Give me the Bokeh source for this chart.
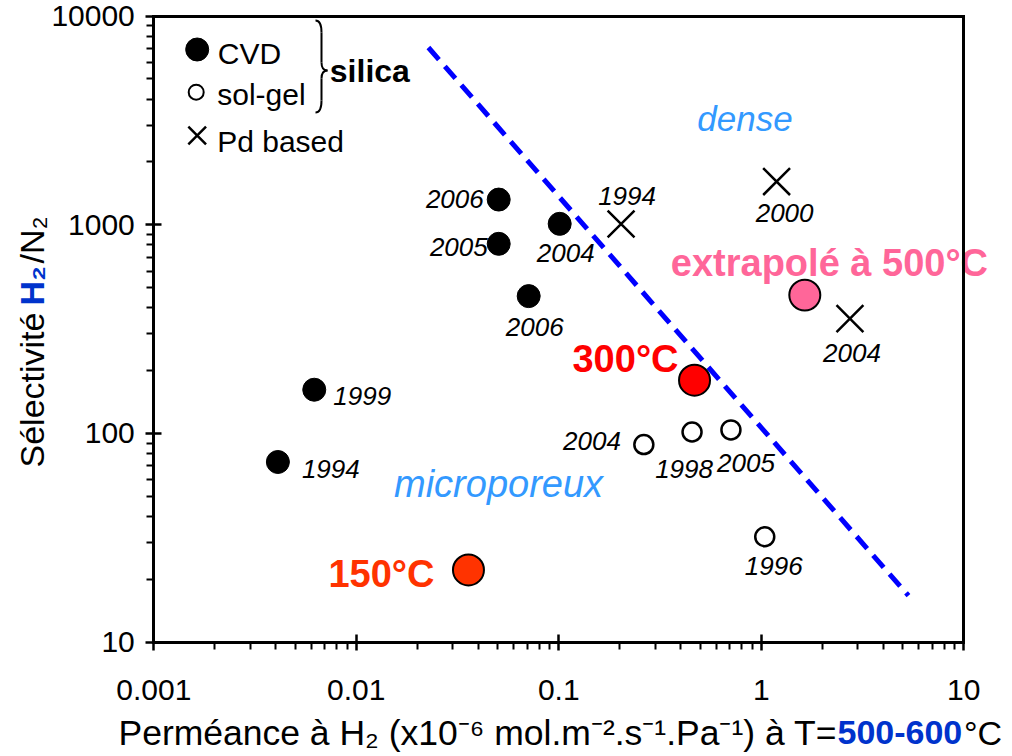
import math
from bokeh.plotting import figure
from bokeh.models import Range1d, LinearScale, FixedTicker, CustomJSTickFormatter, LogAxis
from bokeh.core.properties import value
from bokeh.embed import file_html
from bokeh.resources import INLINE

FONT = "Liberation Sans"

# ---------------- data ----------------
cvd_x = [0.0041, 0.0062, 0.0505, 0.0505, 0.101, 0.071]
cvd_y = [73, 162, 1320, 810, 1010, 455]
cvd_year = ["1994", "1999", "2006", "2005", "2004", "2006"]

solgel_x = [0.263, 0.455, 0.708, 1.04]
solgel_y = [88.5, 101.6, 104, 32]
solgel_year = ["2004", "1998", "2005", "1996"]

pd_x = [0.203, 1.19, 2.74]
pd_y = [1008, 1610, 355]
pd_year = ["1994", "2000", "2004"]

work_x = [0.0358, 0.468, 1.64]
work_y = [22.2, 180, 460]
work_label = ["150°C", "300°C", "extrapolé à 500°C"]
work_color = ["#FF3300", "#FF0000", "#FF6699"]

limit_x = [0.0227, 5.33]
limit_y = [7063, 16.7]

region_label = ["dense", "microporeux"]
region_x = [0.831, 0.0504]
region_y = [2797, 49.3]
region_size = [35, 38]

x_ticks = [0.001, 0.01, 0.1, 1, 10]
y_ticks = [10, 100, 1000, 10000]

# ---------------- layout / styles ----------------
W, H = 1012, 756
X0_PX, X_DEC = 153.3, 202.5      # pixel of x=0.001, pixels per decade
Y0_PX, Y_DEC = 15.5, 208.73      # pixel of y=10000, pixels per decade
MID = 0.36                       # text anchor -> visual centre correction (em)

x_lo = 10 ** (-3 - X0_PX / X_DEC)
x_hi = 10 ** (-3 + (W - X0_PX) / X_DEC)
y_hi = 10 ** (4 + Y0_PX / Y_DEC)
y_lo = 10 ** (4 - (H - Y0_PX) / Y_DEC)

# (align, x offset, y offset of the text's visual centre) in px
cvd_lab = [("left", 24, 7), ("left", 19, 6), ("right", -15, -1), ("right", -11, 3),
           ("center", 6, 29), ("center", 6, 30.5)]
solgel_lab = [("right", -23, -4), ("center", -8, 36.5), ("center", 15, 33), ("center", 9, 29.5)]
pd_lab = [("center", 6, -28), ("center", 8, 31), ("center", 2, 34.5)]
work_lab = [("right", -34, 4), ("right", -16, -21), ("left", -134, -32)]

x_minor = [m * 10.0 ** e for e in range(-3, 1) for m in range(2, 10)]
y_minor = [m * 10.0 ** e for e in range(1, 4) for m in range(2, 10)]

p = figure(width=W, height=H, x_axis_type="log", y_axis_type="log",
           x_range=Range1d(x_lo, x_hi), y_range=Range1d(y_lo, y_hi),
           output_backend="svg", toolbar_location=None,
           min_border=0, min_border_left=0, min_border_right=0,
           min_border_top=0, min_border_bottom=0)
p.title.visible = False
p.xgrid.visible = False
p.ygrid.visible = False
p.outline_line_color = None
p.background_fill_color = "white"
p.border_fill_color = "white"

for ax in (p.xaxis[0], p.yaxis[0]):
    ax.axis_line_width = 3
    ax.axis_line_cap = "square"
    ax.major_tick_line_width = 2.5
    ax.minor_tick_line_width = 2
    ax.major_tick_in = 8
    ax.major_tick_out = 8
    ax.minor_tick_in = 0
    ax.minor_tick_out = 7
    ax.major_label_text_font = FONT
    ax.major_label_text_font_size = "30px"
    ax.major_label_text_color = "black"
    ax.formatter = CustomJSTickFormatter(code="return tick.toString();")
p.xaxis[0].ticker = FixedTicker(ticks=x_ticks, minor_ticks=x_minor)
p.yaxis[0].ticker = FixedTicker(ticks=y_ticks, minor_ticks=y_minor)
p.xaxis[0].fixed_location = y_ticks[0]
p.xaxis[0].bounds = (x_ticks[0], x_ticks[-1])
p.yaxis[0].fixed_location = x_ticks[0]
p.yaxis[0].bounds = (y_ticks[0], y_ticks[-1])
p.xaxis[0].major_label_standoff = 30
p.yaxis[0].major_label_standoff = 11

# top and right frame lines
for loc, fixed, bnds in [("above", y_ticks[-1], (x_ticks[0], x_ticks[-1])),
                         ("right", x_ticks[-1], (y_ticks[0], y_ticks[-1]))]:
    p.add_layout(LogAxis(fixed_location=fixed, bounds=bnds, ticker=FixedTicker(ticks=[]),
                         axis_line_width=3, axis_line_cap="square",
                         major_tick_line_color=None, minor_tick_line_color=None,
                         major_label_text_font_size="0px"), loc)

# pixel overlay (page pixels) for legend decoration and titles
p.extra_x_ranges = {"px": Range1d(0, W)}
p.extra_y_ranges = {"py": Range1d(H, 0)}
p.extra_x_scales = {"px": LinearScale()}
p.extra_y_scales = {"py": LinearScale()}
ov = dict(x_range_name="px", y_range_name="py")


def txt(x, y, t, fs, align="left", style="normal", color="black", angle=0.0, dx=0.0, dy=0.0, **kw):
    p.text(x, y, text=t, x_offset=dx, y_offset=dy, angle=angle, text_align=align,
           text_baseline="alphabetic", text_font=value(FONT), text_font_size=f"{fs}px",
           text_font_style=style, text_color=color, **kw)


# ---------------- marks ----------------
p.line(limit_x, limit_y, line_color="#0000FF", line_width=5, line_dash="16 9")
p.scatter(cvd_x, cvd_y, marker="circle", size=23, fill_color="black", line_color="black")
p.scatter(solgel_x, solgel_y, marker="circle", size=19, fill_color="white",
          line_color="black", line_width=2.5)
p.scatter(pd_x, pd_y, marker="x", size=38, line_color="black", line_width=2.5)
p.scatter(work_x, work_y, marker="circle", size=31, fill_color=work_color,
          line_color="black", line_width=2)

for xs, ys, ts, styles in [(cvd_x, cvd_y, cvd_year, cvd_lab),
                           (solgel_x, solgel_y, solgel_year, solgel_lab),
                           (pd_x, pd_y, pd_year, pd_lab)]:
    for xv, yv, t, (al, dx, dy) in zip(xs, ys, ts, styles):
        txt([xv], [yv], [t], 26, align=al, style="italic", dx=dx, dy=dy)

for xv, yv, t, c, (al, dx, dy) in zip(work_x, work_y, work_label, work_color, work_lab):
    txt([xv], [yv], [t], 38, align=al, style="bold", color=c, dx=dx, dy=dy)

for xv, yv, t, fs in zip(region_x, region_y, region_label, region_size):
    txt([xv], [yv], [t], fs, align="center", style="italic", color="#3399FF", dy=-MID * fs)

# ---------------- legend ----------------
p.scatter([196.7], [49], marker="circle", size=23, fill_color="black", line_color="black", **ov)
p.scatter([195.7], [91.7], marker="circle", size=15, fill_color="white", line_color="black",
          line_width=2, **ov)
p.scatter([196.7], [135], marker="x", size=25, line_color="black", line_width=2.5, **ov)
for t, lx, ly in [("CVD", 217.3, 52.5), ("sol-gel", 216.7, 94.2), ("Pd based", 216.7, 140.9)]:
    txt([lx], [ly], [t], 30, **ov)
txt([329.3], [70.2], ["silica"], 32, style="bold", **ov)
# brace
p.bezier(x0=[315, 321, 327, 321], y0=[20, 62, 70, 100],
         x1=[321, 327, 321, 315], y1=[32, 70, 78, 112],
         cx0=[320, 321, 324, 321], cy0=[20, 68, 70, 107],
         cx1=[321, 324, 321, 320], cy1=[25, 70, 72, 112],
         line_color="black", line_width=2, **ov)
p.segment(x0=[321, 321], y0=[32, 78], x1=[321, 321], y1=[62, 100],
          line_color="black", line_width=2, **ov)

# ---------------- axis titles ----------------
txt([836.5], [732], ["Perméance à H₂ (x10⁻⁶ mol.m⁻².s⁻¹.Pa⁻¹) à T="], 35.5, align="right", **ov)
txt([837], [732], ["500-600"], 34, style="bold", color="#0033CC", **ov)
txt([963.5], [732], ["°C"], 34, **ov)

ang = math.pi / 2
txt([31], [467], ["Sélectivité "], 34, angle=ang, **ov)
txt([31], [305], ["H₂"], 34, style="bold", color="#0033CC", angle=ang, **ov)
txt([31], [263], ["/N₂"], 34, angle=ang, **ov)

open("out.html", "w").write(file_html(p, INLINE))
